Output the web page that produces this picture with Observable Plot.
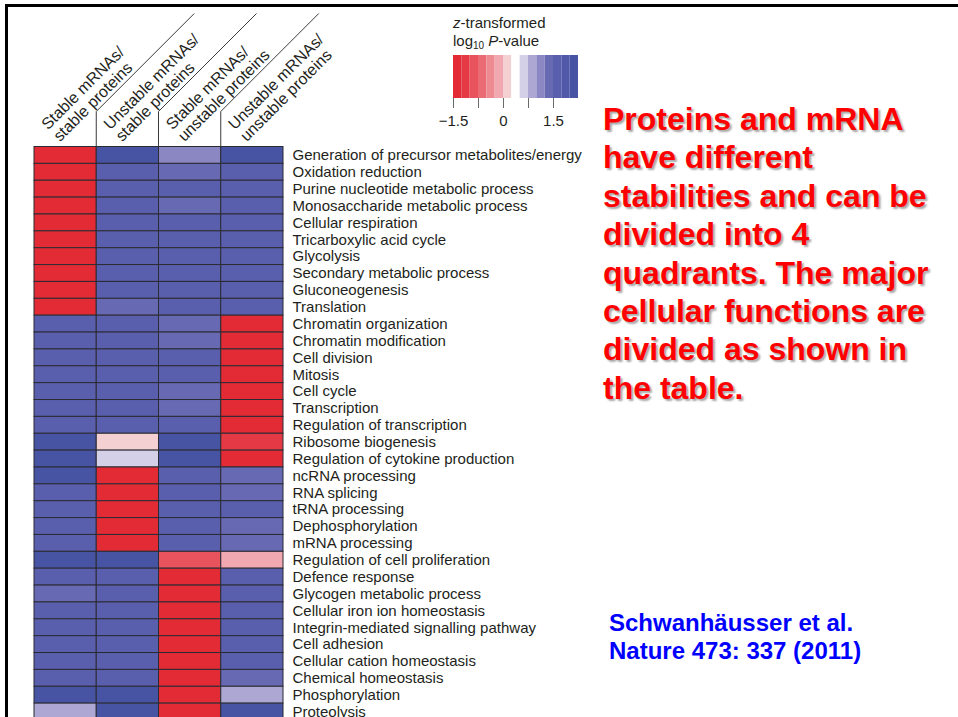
<!DOCTYPE html>
<html>
<head>
<meta charset="utf-8">
<script src="https://cdn.jsdelivr.net/npm/d3@7"></script>
<script src="https://cdn.jsdelivr.net/npm/@observablehq/plot@0.6"></script>
<style>
  html, body { margin: 0; padding: 0; background: #fff; }
  body { width: 958px; height: 717px; overflow: hidden; position: relative;
         font-family: "Liberation Sans", Arial, Helvetica, sans-serif; }
  .frame { position: absolute; left: 5px; top: 4px; right: -10px; bottom: -10px;
           border-top: 3px solid #000; border-left: 3px solid #000; }
  #heat { position: absolute; left: 0; top: 0; }
  #legend { position: absolute; left: 443px; top: 50px; }
  #legend svg g[aria-label^="x-axis"] line,
  #legend svg g[aria-label^="x-axis"] path { stroke: #6a6a6a; }
  .legend-title { position: absolute; left: 453px; top: 14px; font-size: 15px;
                  line-height: 18px; color: #231f20; white-space: nowrap; }
  .legend-title sub { font-size: 10px; vertical-align: -3px; line-height: 0; }
  .note { position: absolute; left: 603px; top: 100px; font-size: 32px; font-weight: bold;
          line-height: 38.4px; color: #ff0000; white-space: nowrap;
          text-shadow: 2px 2px 2px rgba(0,0,0,0.35); }
  .cite { position: absolute; left: 609px; top: 609px; font-size: 24px; font-weight: bold;
          line-height: 28px; color: #0000ff; white-space: nowrap; }
</style>
</head>
<body>
<div class="frame"></div>
<div id="heat"></div>
<div class="legend-title"><i>z</i>-transformed<br>log<sub>10</sub> <i>P</i>-value</div>
<div id="legend"></div>
<div class="note">Proteins and mRNA<br>have different<br>stabilities and can be<br>divided into 4<br>quadrants. The major<br>cellular functions are<br>divided as shown in<br>the table.</div>
<div class="cite">Schwanhäusser et al.<br>Nature 473: 337 (2011)</div>
<script>
// Stability quadrants (columns)
const quadrants = [
  "Stable mRNAs/\nstable proteins",
  "Unstable mRNAs/\nstable proteins",
  "Stable mRNAs/\nunstable proteins",
  "Unstable mRNAs/\nunstable proteins"
];

// GO processes (rows)
const processes = [
  "Generation of precursor metabolites/energy",
  "Oxidation reduction",
  "Purine nucleotide metabolic process",
  "Monosaccharide metabolic process",
  "Cellular respiration",
  "Tricarboxylic acid cycle",
  "Glycolysis",
  "Secondary metabolic process",
  "Gluconeogenesis",
  "Translation",
  "Chromatin organization",
  "Chromatin modification",
  "Cell division",
  "Mitosis",
  "Cell cycle",
  "Transcription",
  "Regulation of transcription",
  "Ribosome biogenesis",
  "Regulation of cytokine production",
  "ncRNA processing",
  "RNA splicing",
  "tRNA processing",
  "Dephosphorylation",
  "mRNA processing",
  "Regulation of cell proliferation",
  "Defence response",
  "Glycogen metabolic process",
  "Cellular iron ion homeostasis",
  "Integrin-mediated signalling pathway",
  "Cell adhesion",
  "Cellular cation homeostasis",
  "Chemical homeostasis",
  "Phosphorylation",
  "Proteolysis"
];

// z-transformed log10 P-values, one array per quadrant (row order as above)
const stableStable = [
  -1.62, -1.58, -1.66, -1.6, -1.64, -1.57, -1.61, -1.59, -1.63, -1.55,
  1.6, 1.62, 1.58, 1.6, 1.63, 1.57, 1.6,
  2.1, 2.08, 2.05,
  1.6, 1.62, 1.58, 1.6,
  2.1,
  1.6, 1.35, 1.6, 1.62, 1.58, 1.6, 1.61,
  2.1, 0.85
];
const unstableStable = [
  2.05,
  1.6, 1.62, 1.58, 1.6, 1.61, 1.59, 1.6, 1.62,
  1.35,
  1.6, 1.6, 1.58, 1.62, 1.6, 1.61, 1.59,
  0.1, 0.6,
  -1.6, -1.62, -1.58, -1.6, -1.61,
  2.1,
  1.6, 1.6, 1.62, 1.58, 1.6, 1.61, 1.59,
  2.1, 2.05
];
const stableUnstable = [
  1.1, 1.35, 1.6, 1.35,
  1.6, 1.62, 1.58, 1.6, 1.61, 1.59,
  1.35, 1.35, 1.6, 1.62, 1.35, 1.35, 1.6,
  2.1, 2.05,
  1.6, 1.62, 1.58, 1.6, 1.61,
  -0.85,
  -1.6, -1.62, -1.58, -1.6, -1.61, -1.59, -1.6, -1.62, -1.58
];
const unstableUnstable = [
  2.05,
  1.6, 1.62, 1.58, 1.6, 1.61, 1.59, 1.6, 1.62, 1.6,
  -1.6, -1.62, -1.58, -1.6, -1.61, -1.59, -1.6,
  -1.1, -1.6,
  1.35, 1.35, 1.6, 1.35, 1.35,
  -0.1,
  1.6, 1.62, 1.58, 1.6, 1.61, 1.59,
  1.35, 0.85, 2.05
];

// Colour key: binned diverging scale
const colorThresholds = [-1.25, -1, -0.75, -0.5, -0.25, 0, 0.25, 0.5, 0.75, 1, 1.25, 1.5, 1.75, 2];
const colorRange = ["#e32b36", "#e53a45", "#e8535e", "#eb6b75", "#ee8a92", "#f2a8b0", "#f5d0d3",
                    "#ffffff", "#d3d0e8", "#aca8d3", "#8a87c2", "#6769b2", "#5a5fad", "#5158a9", "#4753a3"];
const keyExtent = [-1.5, 2.25];
const keyTicks = [-1.5, -0.75, 0, 0.75, 1.5];
const keyLabelled = [-1.5, 0, 1.5];

const series = [stableStable, unstableStable, stableUnstable, unstableUnstable];
const cells = quadrants.flatMap((q, i) =>
  processes.map((p, j) => ({quadrant: q, process: p, value: series[i][j]})));

const colorScale = {type: "threshold", domain: colorThresholds, range: colorRange};

// Slanted leader lines that separate the column headers
function leaders(index, scales, values, dimensions) {
  const g = d3.create("svg:g").attr("fill", "none").attr("stroke", "#3a3a3a").attr("stroke-width", 1);
  const top = dimensions.marginTop;
  for (let i = 1; i < quadrants.length; ++i) {
    const x = scales.x(quadrants[i]);
    g.append("path").attr("d", `M${x},${top}V${top - 35}l98,-98`);
  }
  return g.node();
}

const heat = Plot.plot({
  width: 600,
  height: 720,
  marginLeft: 34,
  marginRight: 317,
  marginTop: 146.5,
  marginBottom: 0,
  style: {fontFamily: "'Liberation Sans', Arial, Helvetica, sans-serif", fontSize: "15px",
          color: "#231f20", background: "transparent", overflow: "visible"},
  x: {domain: quadrants, padding: 0, round: false, axis: null},
  y: {domain: processes, padding: 0, round: false, axis: null},
  color: colorScale,
  marks: [
    Plot.cell(cells, {x: "quadrant", y: "process", fill: "value", stroke: "#2b2b33", strokeWidth: 1, inset: 0}),
    Plot.text(processes, {y: d => d, frameAnchor: "right", dx: 9, textAnchor: "start", fill: "#231f20"}),
    Plot.text(quadrants, {x: d => d, frameAnchor: "top", dx: -26, dy: -25, rotate: -45, fontSize: 16,
                          textAnchor: "start", lineHeight: 1.05, fill: "#231f20"}),
    leaders
  ]
});
document.getElementById("heat").append(heat);

// Colour key bar
const edges = [keyExtent[0], ...colorThresholds, keyExtent[1]];
const bands = d3.pairs(edges).map(([a, b]) => ({x1: a, x2: b, mid: (a + b) / 2}));
const key = Plot.plot({
  width: 145,
  height: 78,
  marginLeft: 10,
  marginRight: 10,
  marginTop: 5,
  marginBottom: 30,
  style: {fontFamily: "'Liberation Sans', Arial, Helvetica, sans-serif", fontSize: "15px",
          color: "#231f20", background: "transparent", overflow: "visible"},
  x: {domain: keyExtent, ticks: keyTicks, tickSize: 10, tickPadding: 7,
      tickFormat: d => keyLabelled.includes(d) ? (d < 0 ? "\u2212" + Math.abs(d) : String(d)) : "",
      label: null},
  color: colorScale,
  marks: [
    Plot.rectX(bands, {x1: "x1", x2: "x2", fill: "mid"})
  ]
});
document.getElementById("legend").append(key);
</script>
</body>
</html>
